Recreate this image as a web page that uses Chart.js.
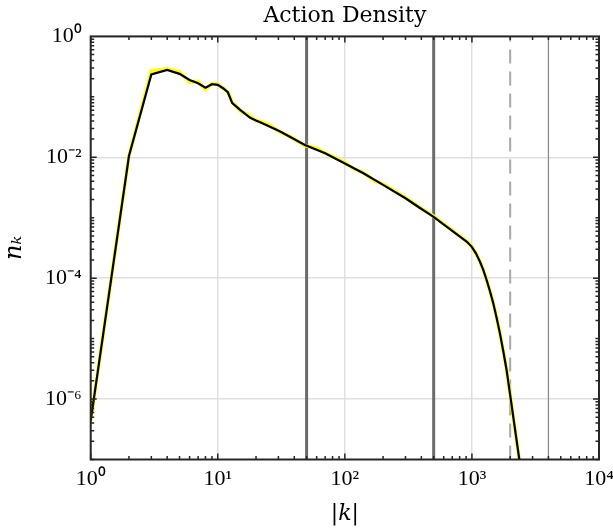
<!DOCTYPE html>
<html>
<head>
<meta charset="utf-8">
<script src="https://cdn.jsdelivr.net/npm/chart.js@4.4.1/dist/chart.umd.min.js"></script>
<style>
  html, body { margin: 0; padding: 0; background: #fff; }
  canvas { display: block; }
</style>
</head>
<body>
<canvas id="density-chart" width="613" height="530"></canvas>
<script>
// smoothed spectrum (black)
const kValues = [1, 2, 3, 4, 5, 6, 7, 8, 9, 10, 11, 12, 13, 15, 18, 20, 22, 31, 48.5, 70, 100, 140, 200, 300, 390, 496, 713, 805, 908, 994, 1075, 1156, 1228, 1305, 1385, 1472, 1564, 1661, 1764, 1874, 1991, 2343, 2420]
const nValues = [4.4e-7, 1.05e-2, 0.235, 0.279, 0.24, 0.19, 0.168, 0.142, 0.162, 0.158, 0.139, 0.119, 0.0785, 0.0608, 0.045, 0.0405, 0.0372, 0.0266, 0.016, 0.0117, 0.0079, 0.00545, 0.0035, 0.0021, 1.45e-3, 1.044e-3, 5.89e-4, 4.87e-4, 4.03e-4, 3.33e-4, 2.58e-4, 1.88e-4, 1.368e-4, 9.34e-5, 6.14e-5, 3.84e-5, 2.22e-5, 1.22e-5, 6.25e-6, 3.03e-6, 1.245e-6, 1.11e-7, 6.9e-8]

// raw spectrum (yellow, underneath)
const rawK = [1, 2, 3, 4, 5, 6, 7, 8, 9, 10, 11, 12, 13, 15, 18, 20, 22, 26, 31, 38, 48.5, 60, 70, 85, 100, 120, 140, 170, 200, 250, 300, 390, 496, 713, 805, 908, 994, 1075, 1156, 1228, 1305, 1385, 1472, 1564, 1661, 1764, 1874, 1991, 2343, 2420]
const rawN = [4.4e-7, 1.05e-2, 0.27, 0.29, 0.26, 0.175, 0.18, 0.133, 0.166, 0.162, 0.14, 0.12, 0.082, 0.059, 0.048, 0.04, 0.039, 0.0335, 0.026, 0.0215, 0.0155, 0.0142, 0.0117, 0.0098, 0.0082, 0.0063, 0.0056, 0.0041, 0.0036, 0.0027, 0.00215, 1.48e-3, 1.07e-3, 6.0e-4, 4.95e-4, 4.1e-4, 3.38e-4, 2.6e-4, 1.9e-4, 1.38e-4, 9.4e-5, 6.2e-5, 3.87e-5, 2.24e-5, 1.23e-5, 6.3e-6, 3.05e-6, 1.25e-6, 1.11e-7, 6.9e-8]

// vertical reference lines
const markerK = [50, 500, 2000, 4000]

const xTickExps = [0, 1, 2, 3, 4]
const yTickExps = [0, -2, -4, -6]

const xMin = 1
const xMax = 1e4
const yMin = 1e-7
const yMax = 1

// box around the plot with inward ticks on all four sides
const axesBox = {
  id: 'axesBox',
  afterDatasetsDraw(chart) {
    const { ctx, chartArea: a, scales } = chart
    const x = scales.x
    const y = scales.y
    ctx.save()
    ctx.strokeStyle = '#262626'
    ctx.lineWidth = 1.5
    ctx.beginPath()
    for (let e = 0; e < 4; e++) {
      for (let m = 1; m < 10; m++) {
        const px = x.getPixelForValue(m * 10 ** e)
        const len = m === 1 ? 6 : 3.5
        ctx.moveTo(px, a.bottom)
        ctx.lineTo(px, a.bottom - len)
        ctx.moveTo(px, a.top)
        ctx.lineTo(px, a.top + len)
      }
    }
    for (let e = -7; e < 0; e++) {
      for (let m = 1; m < 10; m++) {
        const py = y.getPixelForValue(m * 10 ** e)
        const len = m === 1 && e % 2 === 0 ? 6 : 3.5
        ctx.moveTo(a.left, py)
        ctx.lineTo(a.left + len, py)
        ctx.moveTo(a.right, py)
        ctx.lineTo(a.right - len, py)
      }
    }
    ctx.stroke()
    ctx.lineWidth = 2
    ctx.strokeRect(a.left, a.top, a.right - a.left, a.bottom - a.top)
    ctx.restore()
  },
}

initChart()

function initChart() {
  const ctx = document.getElementById('density-chart')

  const vline = (k, color, width, dash) => ({
    data: [{ x: k, y: yMin }, { x: k, y: yMax }],
    borderColor: color,
    borderWidth: width,
    borderDash: dash || [],
    pointRadius: 0,
  })

  new Chart(ctx, {
    type: 'line',
    data: {
      datasets: [
        {
          label: 'smoothed',
          data: kValues.map((k, i) => ({ x: k, y: nValues[i] })),
          borderColor: '#000000',
          borderWidth: 2.2,
          pointRadius: 0,
        },
        {
          label: 'raw',
          data: rawK.map((k, i) => ({ x: k, y: rawN[i] })),
          borderColor: '#ffff00',
          borderWidth: 3.6,
          pointRadius: 0,
        },
        vline(markerK[0], '#6b6b6b', 3),
        vline(markerK[1], '#6b6b6b', 3),
        vline(markerK[2], '#a8a8a8', 2, [14, 8]),
        vline(markerK[3], '#8c8c8c', 1.3),
      ],
    },
    options: {
      responsive: false,
      animation: false,
      devicePixelRatio: 1,
      layout: { padding: { left: 0, right: 14, top: 0, bottom: 0 } },
      plugins: {
        legend: { display: false },
        tooltip: { enabled: false },
        title: {
          display: true,
          text: 'Action Density',
          fullSize: false,
          color: '#000',
          font: { family: 'DejaVu Serif', size: 22, weight: 'normal' },
          padding: { top: 3, bottom: 7 },
        },
      },
      scales: {
        x: {
          type: 'logarithmic',
          min: xMin,
          max: xMax,
          afterBuildTicks: (scale) => {
            scale.ticks = xTickExps.map((e) => ({ value: 10 ** e }))
          },
          afterFit: (scale) => {
            scale.height = 70.5
            scale.paddingLeft = 0
            scale.paddingRight = 0
          },
          ticks: {
            autoSkip: false,
            maxRotation: 0,
            padding: 7,
            color: '#000',
            font: { family: 'Liberation Serif', size: 22 },
            callback: (value) => powerLabel(value),
          },
          grid: { color: '#dfdfdf', lineWidth: 1.5, drawTicks: false },
          border: { display: false },
          title: {
            display: true,
            text: '|k|',
            color: '#000',
            font: { family: 'DejaVu Serif', size: 22, style: 'italic' },
            padding: { top: 0, bottom: 3 },
          },
        },
        y: {
          type: 'logarithmic',
          min: yMin,
          max: yMax,
          afterBuildTicks: (scale) => {
            scale.ticks = yTickExps.map((e) => ({ value: 10 ** e }))
          },
          afterFit: (scale) => {
            scale.width = 90.7
            scale.paddingTop = 0
            scale.paddingBottom = 0
          },
          ticks: {
            autoSkip: false,
            padding: 9,
            color: '#000',
            font: { family: 'Liberation Serif', size: 22 },
            callback: (value) => powerLabel(value),
          },
          grid: { color: '#dfdfdf', lineWidth: 1.5, drawTicks: false },
          border: { display: false },
          title: {
            display: true,
            text: 'nₖ',
            color: '#000',
            font: { family: 'DejaVu Serif', size: 24, style: 'italic' },
            padding: { top: 0, bottom: 0 },
          },
        },
      },
    },
    plugins: [axesBox],
  })
}

/**
 * Formats a power of ten as 10 with a superscript exponent
 * @param {number} value Tick value
 * @returns {string} The label
 */
function powerLabel(value) {
  const sup = { '0': '⁰', '1': '¹', '2': '²', '3': '³', '4': '⁴', '5': '⁵', '6': '⁶', '7': '⁷', '8': '⁸', '9': '⁹', '-': '⁻' }
  const e = Math.round(Math.log10(value))
  return '10' + String(e).split('').map((c) => sup[c]).join('')
}
</script>
</body>
</html>
